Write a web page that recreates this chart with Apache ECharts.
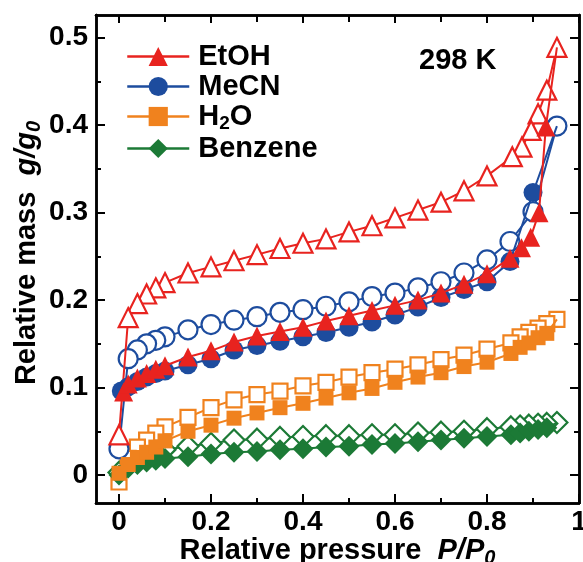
<!DOCTYPE html>
<html><head><meta charset="utf-8">
<script src="https://cdn.jsdelivr.net/npm/echarts@6/dist/echarts.min.js"></script>
<style>html,body{margin:0;padding:0;background:#fff}#c{width:583px;height:562px}</style>
</head><body><div id="c"></div>
<script>
// ---- data (P/P0 and g/g0) ----
const etohAdsP = [0.01,0.02,0.04,0.06,0.08,0.10,0.15,0.20,0.25,0.30,0.35,0.40,0.45,0.50,0.55,0.60,0.65,0.70,0.75,0.80,0.85,0.875,0.895,0.913,0.928,0.952];
const etohAdsM = [0.095,0.104,0.111,0.116,0.121,0.125,0.135,0.142,0.152,0.159,0.164,0.169,0.176,0.182,0.188,0.194,0.200,0.208,0.218,0.230,0.248,0.260,0.272,0.300,0.398,0.489];
const etohDesP = [0.952,0.93,0.911,0.896,0.876,0.855,0.80,0.75,0.70,0.65,0.60,0.55,0.50,0.45,0.40,0.35,0.30,0.25,0.20,0.15,0.10,0.08,0.06,0.04,0.02,0.0];
const etohDesM = [0.489,0.440,0.413,0.394,0.375,0.364,0.342,0.325,0.312,0.303,0.294,0.285,0.278,0.270,0.265,0.259,0.252,0.245,0.238,0.231,0.220,0.214,0.207,0.196,0.180,0.046];

const mecnAdsP = [0.005,0.02,0.04,0.06,0.08,0.10,0.15,0.20,0.25,0.30,0.35,0.40,0.45,0.50,0.55,0.60,0.65,0.70,0.75,0.80,0.85,0.90,0.952];
const mecnAdsM = [0.096,0.101,0.107,0.112,0.116,0.119,0.126,0.133,0.143,0.148,0.153,0.158,0.163,0.169,0.175,0.183,0.192,0.203,0.212,0.221,0.244,0.323,0.399];
const mecnDesP = [0.952,0.90,0.85,0.80,0.75,0.70,0.65,0.60,0.55,0.50,0.45,0.40,0.35,0.30,0.25,0.20,0.15,0.10,0.08,0.06,0.04,0.02,0.0];
const mecnDesM = [0.399,0.301,0.267,0.246,0.231,0.221,0.214,0.208,0.204,0.198,0.193,0.189,0.186,0.181,0.177,0.172,0.166,0.158,0.154,0.150,0.143,0.133,0.030];

const waterAdsP = [0.0,0.02,0.04,0.06,0.08,0.10,0.15,0.20,0.25,0.30,0.35,0.40,0.45,0.50,0.55,0.60,0.65,0.70,0.75,0.80,0.852,0.872,0.891,0.911,0.93,0.952];
const waterAdsM = [0.002,0.012,0.020,0.026,0.032,0.039,0.050,0.057,0.065,0.071,0.077,0.082,0.088,0.094,0.099,0.106,0.112,0.117,0.124,0.129,0.139,0.146,0.151,0.157,0.162,0.178];
const waterDesP = [0.952,0.93,0.911,0.891,0.872,0.852,0.80,0.75,0.70,0.65,0.60,0.55,0.50,0.45,0.40,0.35,0.30,0.25,0.20,0.15,0.10,0.08,0.06,0.04,0.02,0.0];
const waterDesM = [0.178,0.173,0.168,0.163,0.158,0.151,0.144,0.137,0.132,0.126,0.121,0.117,0.112,0.106,0.102,0.096,0.092,0.086,0.077,0.066,0.055,0.048,0.040,0.032,0.019,-0.008];

const benzAdsP = [0.0,0.02,0.04,0.06,0.08,0.10,0.15,0.20,0.25,0.30,0.35,0.40,0.45,0.50,0.55,0.60,0.65,0.70,0.75,0.80,0.852,0.872,0.891,0.911,0.93,0.952];
const benzAdsM = [0.0,0.008,0.012,0.015,0.017,0.019,0.021,0.024,0.026,0.027,0.029,0.030,0.032,0.033,0.035,0.036,0.038,0.040,0.042,0.044,0.046,0.048,0.050,0.052,0.054,0.060];
const benzDesP = [0.952,0.93,0.911,0.891,0.872,0.852,0.80,0.75,0.70,0.65,0.60,0.55,0.50,0.45,0.40,0.35,0.30,0.25,0.20,0.15,0.10,0.08,0.06,0.04,0.02,0.0];
const benzDesM = [0.060,0.059,0.058,0.057,0.056,0.055,0.053,0.050,0.049,0.048,0.046,0.046,0.045,0.045,0.044,0.043,0.041,0.040,0.036,0.033,0.029,0.026,0.023,0.019,0.013,0.003];

const xMajor = [0,0.2,0.4,0.6,0.8,1];
const xMinor = [0.1,0.3,0.5,0.7,0.9];
const yMajor = [0,0.1,0.2,0.3,0.4,0.5];
const yMinor = [0.05,0.15,0.25,0.35,0.45];

const names = ['EtOH','MeCN','H2O','Benzene'];
const colors = {EtOH:'#E8231F', MeCN:'#1D4C9E', H2O:'#F0821E', Benzene:'#1C7A36'};
const symbols = {EtOH:['triangle',19], MeCN:['circle',19], H2O:['rect',15], Benzene:['diamond',21]};

// ---- build ----
function pairs(p, m, lastNone){
  return p.map((x,i)=> (lastNone && i===p.length-1) ? {value:[x,m[i]], symbol:'none'} : [x,m[i]]);
}
const FONT = 'Liberation Sans';
const series = [];
const sets = {
  EtOH:[etohAdsP,etohAdsM,etohDesP,etohDesM],
  MeCN:[mecnAdsP,mecnAdsM,mecnDesP,mecnDesM],
  H2O:[waterAdsP,waterAdsM,waterDesP,waterDesM],
  Benzene:[benzAdsP,benzAdsM,benzDesP,benzDesM]
};
const zBase = {Benzene:1, H2O:2, MeCN:3, EtOH:4};
names.forEach(n=>{
  const [ap,am,dp,dm] = sets[n];
  const c = colors[n], [sym,sz] = symbols[n];
  series.push({
    name: n+' des', type:'line', data: pairs(dp,dm,false), symbol: sym, symbolSize: sz,
    lineStyle:{color:c,width:2}, itemStyle:{color:'#fff',borderColor:c,borderWidth:2.2,opacity:1},
    z: zBase[n], animation:false, showAllSymbol:true
  });
});
names.forEach(n=>{
  const [ap,am,dp,dm] = sets[n];
  const c = colors[n], [sym,sz] = symbols[n];
  series.push({
    name: n, type:'line', data: pairs(ap,am,true), symbol: sym, symbolSize: sz,
    lineStyle:{color:c,width:2}, itemStyle:{color:c,borderWidth:0,opacity:1},
    z: 10+zBase[n], animation:false, showAllSymbol:true
  });
});

const axisLine = {show:true, onZero:false, lineStyle:{color:'#000', width:2.5}};
const lbl = {fontFamily:FONT, fontWeight:'bold', fontSize:28, color:'#000'};
function xAx(pos, vals, len, labels, extra){
  return Object.assign({
    type:'value', min:-0.05, max:1.0, position:pos, gridIndex:0,
    axisLine: axisLine, splitLine:{show:false},
    axisTick:{show:true, inside:true, length:len, customValues:vals, lineStyle:{color:'#000',width:2}},
    axisLabel: labels ? Object.assign({show:true, margin:5, customValues:vals}, lbl) : {show:false}
  }, extra||{});
}
function yAx(pos, vals, len, labels, extra){
  return Object.assign({
    type:'value', min:-0.032, max:0.526, position:pos, gridIndex:0,
    axisLine: axisLine, splitLine:{show:false},
    axisTick:{show:true, inside:true, length:len, customValues:vals, lineStyle:{color:'#000',width:2}},
    axisLabel: labels ? Object.assign({show:true, margin:8, customValues:vals}, lbl) : {show:false}
  }, extra||{});
}
const richName = {
  b:{fontFamily:FONT, fontWeight:'bold', fontSize:29, color:'#000'},
  i:{fontFamily:FONT, fontWeight:'bold', fontStyle:'italic', fontSize:29, color:'#000'},
  s:{fontFamily:FONT, fontWeight:'bold', fontStyle:'italic', fontSize:20, color:'#000', padding:[14,0,0,0]}
};

const option = {
  backgroundColor:'#fff',
  animation:false,
  grid:{left:96, right:4, top:15, bottom:59, containLabel:false, outerBoundsMode:'none'},
  xAxis:[
    xAx('bottom', xMajor, 9, true, {
      name:'{b|Relative pressure  }{i|P/P}{s|0}', nameLocation:'middle', nameGap:31, nameMoveOverlap:false,
      nameTextStyle:{rich:richName}
    }),
    xAx('bottom', xMinor, 5, false),
    xAx('top', xMajor, 8, false),
    xAx('top', xMinor, 7, false)
  ],
  yAxis:[
    yAx('left', yMajor, 9, true, {
      name:'{b|Relative mass  }{i|g/g}{s|0}', nameLocation:'middle', nameGap:52, nameMoveOverlap:false,
      nameTextStyle:{rich:richName, padding:[0,0,0,12]}
    }),
    yAx('left', yMinor, 5, false),
    yAx('right', yMajor, 9, false),
    yAx('right', yMinor, 5, false)
  ],
  legend:{
    data:names, orient:'vertical', left:126, top:42, padding:0, itemWidth:62, itemHeight:24, itemGap:1,
    formatter: n => n==='H2O' ? '{t|H}{sub|2}{t|O}' : '{t|'+n+'}',
    lineStyle:{width:2.5},
    textStyle:{fontFamily:FONT, fontWeight:'bold', fontSize:29, color:'#000', padding:[0,0,0,4],
      rich:{t:{fontFamily:FONT, fontWeight:'bold', fontSize:29, color:'#000', lineHeight:31},
            sub:{fontFamily:FONT, fontWeight:'bold', fontSize:19, color:'#000', padding:[14,0,0,0]}}},
    selectedMode:false
  },
  graphic:[{type:'text', left:419, top:46, style:{text:'298 K', font:'bold 29px "Liberation Sans"', fill:'#000'}}],
  series: series
};
const chart = echarts.init(document.getElementById('c'), null, {renderer:'canvas'});
chart.setOption(option);
</script></body></html>
